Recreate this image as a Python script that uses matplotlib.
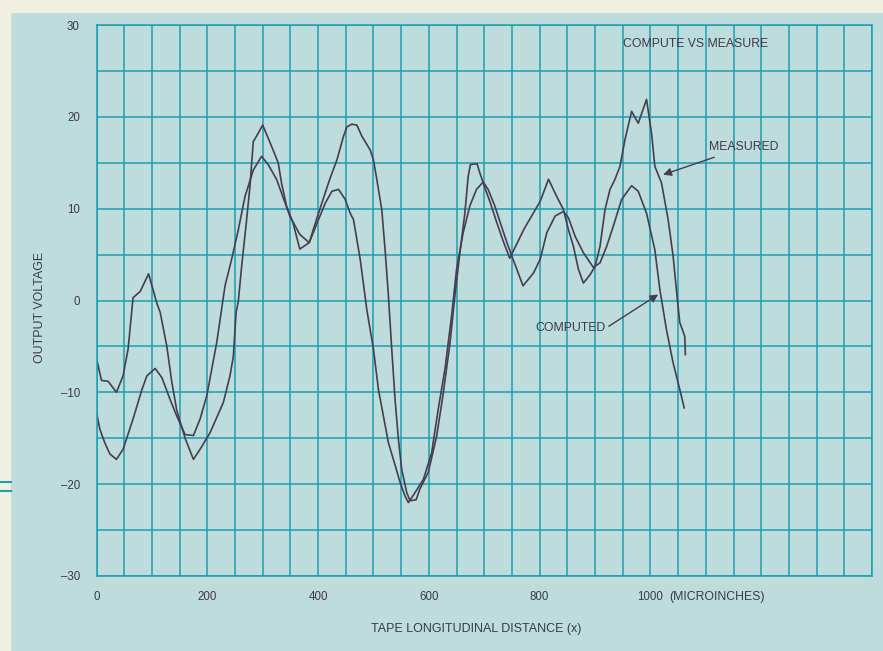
import numpy as np
import matplotlib
matplotlib.use("Agg")
import matplotlib.pyplot as plt
from matplotlib.patches import Rectangle
from matplotlib.lines import Line2D

# measured curve
measured_x = [0, 9, 21, 36, 48, 57, 66, 79, 94, 109, 115, 127, 136, 145, 160, 175,
              187, 205, 229, 241, 247, 252, 256, 262, 271, 277, 283, 289, 300, 316,
              328, 334, 343, 355, 367, 384, 397, 409, 421, 434, 446, 452, 461, 470,
              479, 494, 500, 506, 515, 521, 527, 533, 539, 545, 551, 560, 566, 577,
              584, 599, 614, 626, 638, 647, 656, 665, 671, 675, 687, 692, 701, 710,
              722, 734, 746, 772, 801, 816, 831, 843, 852, 861, 870, 879, 891, 900,
              909, 918, 927, 936, 945, 954, 966, 978, 993, 1002, 1008, 1020, 1032,
              1041, 1048, 1053, 1062, 1063]
measured_y = [-6.3, -8.7, -8.8, -10.0, -8.2, -5.3, 0.3, 1.0, 2.9, -0.3, -1.3, -5.0,
              -8.9, -12.0, -15.0, -17.3, -16.2, -14.4, -11.1, -8.2, -6.1, -1.3, -0.1,
              3.7, 8.8, 12.4, 17.3, 17.9, 19.1, 16.8, 15.0, 12.8, 10.3, 8.4, 5.6, 6.3,
              8.8, 11.0, 13.2, 15.3, 17.9, 18.9, 19.2, 19.1, 17.9, 16.4, 15.3, 13.2,
              9.9, 5.5, 0.5, -5.3, -10.8, -15.1, -18.4, -20.9, -21.8, -21.7, -20.5,
              -18.7, -14.8, -10.1, -4.7, 0.5, 5.2, 9.5, 13.5, 14.8, 14.9, 13.9, 12.3,
              10.8, 8.6, 6.5, 4.6, 7.8, 10.8, 13.2, 11.3, 9.9, 7.7, 5.9, 3.4, 1.9,
              2.8, 3.7, 5.9, 9.9, 12.1, 13.2, 14.6, 17.5, 20.6, 19.3, 21.9, 18.2,
              14.6, 12.8, 8.8, 4.8, 0.5, -2.4, -3.9, -5.9]

# computed curve
computed_x = [0, 6, 15, 24, 36, 48, 66, 82, 91, 106, 118, 133, 145, 160, 175, 187,
              199, 217, 232, 244, 256, 268, 283, 298, 310, 325, 337, 349, 367, 384,
              398, 413, 425, 437, 449, 458, 464, 476, 488, 500, 509, 518, 527, 536,
              548, 557, 563, 572, 590, 605, 617, 629, 641, 650, 662, 674, 686, 698,
              707, 719, 731, 741, 750, 770, 789, 801, 813, 828, 843, 852, 864, 879,
              897, 909, 921, 933, 948, 966, 978, 993, 1008, 1017, 1029, 1041, 1053,
              1061]
computed_y = [-12.2, -14.0, -15.5, -16.7, -17.3, -16.2, -12.9, -9.7, -8.2, -7.4,
              -8.4, -10.8, -12.6, -14.6, -14.7, -12.9, -10.4, -4.6, 1.6, 4.5, 7.7,
              11.3, 14.2, 15.7, 14.8, 13.2, 11.2, 9.2, 7.2, 6.3, 8.4, 10.6, 11.9,
              12.1, 11.0, 9.5, 8.8, 4.5, -1.0, -5.3, -9.7, -12.6, -15.5, -17.3,
              -19.8, -21.3, -22.0, -21.2, -19.5, -16.6, -11.8, -7.5, -1.7, 3.4, 7.4,
              10.3, 12.1, 12.9, 12.1, 10.3, 8.1, 6.3, 4.8, 1.6, 3.0, 4.5, 7.4, 9.2,
              9.7, 9.0, 7.0, 5.2, 3.6, 4.1, 5.9, 8.1, 11.0, 12.5, 11.9, 9.5, 5.5,
              1.2, -3.2, -6.8, -9.7, -11.7]

x_ticks = [0, 200, 400, 600, 800, 1000]
x_tick_labels = ["0", "200", "400", "600", "800", "1000"]
y_ticks = [-30, -20, -10, 0, 10, 20, 30]
y_tick_labels = ["\u201330", "\u201320", "\u201310", "0", "10", "20", "30"]

bg = "#bddcdb"
grid_c = "#1c9fb2"
ink = "#463d50"
txt = "#3c3a44"

plt.rcParams["font.family"] = ["Liberation Sans", "DejaVu Sans"]

fig = plt.figure(figsize=(8.83, 6.51), dpi=100)
fig.patch.set_facecolor(bg)

# cream paper edges
fig.add_artist(Rectangle((0, 0), 10 / 883, 1, transform=fig.transFigure,
                         color="#f1f0e0", zorder=0))
fig.add_artist(Rectangle((0, 1 - 12 / 651), 1, 12 / 651, transform=fig.transFigure,
                         color="#f1f0e0", zorder=0))
for yy in (482, 491):
    fig.add_artist(Line2D([0, 11 / 883], [1 - yy / 651] * 2, transform=fig.transFigure,
                          color=grid_c, lw=1.5))

ax = fig.add_axes([96.5 / 883, 75 / 651, 775.5 / 883, 551 / 651])
ax.set_facecolor(bg)

ax.plot(measured_x, measured_y, color=ink, lw=1.2)
ax.plot(computed_x, computed_y, color=ink, lw=1.2)

ax.set_xlim(0, 1400)
ax.set_ylim(-30, 30)
ax.set_xticks(x_ticks)
ax.set_xticklabels(x_tick_labels)
ax.set_xticks(np.arange(0, 1401, 50), minor=True)
ax.set_yticks(y_ticks)
ax.set_yticklabels(y_tick_labels)
ax.set_yticks(np.arange(-30, 31, 5), minor=True)
ax.grid(True, which="both", color=grid_c, lw=1.1)
ax.set_axisbelow(True)
ax.tick_params(which="both", length=0, labelsize=8.3, labelcolor=txt)
ax.tick_params(axis="x", pad=11)
ax.tick_params(axis="y", pad=12)
for s in ax.spines.values():
    s.set_color(grid_c)
    s.set_linewidth(1.1)

ax.annotate("(MICROINCHES)", xy=(1034, 0), xycoords=("data", "axes fraction"),
            xytext=(0, -11), textcoords="offset points", ha="left", va="top",
            fontsize=8.8, color=txt)

ax.text(950, 27.9, "COMPUTE VS MEASURE", fontsize=8.8, color=txt, va="center")
ax.annotate("MEASURED", xy=(1023, 13.7), xytext=(1106, 16.7), fontsize=8.8,
            color=txt, va="center",
            arrowprops=dict(arrowstyle="-|>", color=ink, lw=1.0, mutation_scale=12,
                            shrinkA=3, shrinkB=0))
ax.annotate("COMPUTED", xy=(1014, 0.65), xytext=(793, -3.0), fontsize=8.8,
            color=txt, va="center",
            arrowprops=dict(arrowstyle="-|>", color=ink, lw=1.0, mutation_scale=12,
                            shrinkA=0, shrinkB=0, relpos=(1.0, 0.5)))

fig.text(40 / 883, 1 - 307 / 651, "OUTPUT VOLTAGE", rotation=90, fontsize=8.9,
         color=txt, ha="center", va="center")
fig.text(476 / 883, 1 - 629 / 651, "TAPE LONGITUDINAL DISTANCE (x)", fontsize=9,
         color=txt, ha="center", va="center")

fig.savefig("out.png", dpi=100, facecolor=fig.get_facecolor())
